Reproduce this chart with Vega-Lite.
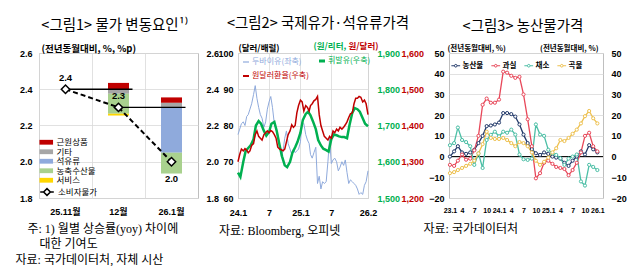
{
  "$schema": "https://vega.github.io/schema/vega-lite/v6.json",
  "padding": {"left": 14, "top": 15, "right": 5, "bottom": 2},
  "background": "white",
  "bounds": "flush",
  "spacing": 40,
  "resolve": {"scale": {"color": "independent", "opacity": "independent"}, "legend": {"color": "independent", "opacity": "independent"}},
  "config": {
    "font": "Liberation Sans, Noto Sans CJK KR",
    "view": {"stroke": "#BFBFBF", "strokeWidth": 1},
    "axis": {"labelFontSize": 9, "labelFontWeight": "bold", "labelColor": "#000000", "ticks": false, "domain": false, "grid": false, "gridColor": "#D9D9D9", "gridWidth": 0.8, "titleFontSize": 9.5, "titleFontWeight": "bold", "titleColor": "#000000", "titleFont": "Noto Sans CJK KR", "labelFlush": false, "labelOverlap": false},
    "title": {"font": "Noto Sans CJK KR", "fontSize": 14.5, "fontWeight": "normal", "color": "#000000", "anchor": "middle", "frame": "group"},
    "legend": {"padding": 0, "labelFont": "Noto Sans CJK KR", "labelFontSize": 9.5, "labelColor": "#000000"}
  },
  "datasets": {
    "p1bars": [
      {"month": "12월", "item": "근원상품", "lo": 2.40, "hi": 2.435},
      {"month": "12월", "item": "기타", "lo": 2.375, "hi": 2.40},
      {"month": "12월", "item": "농축수산물", "lo": 2.265, "hi": 2.375},
      {"month": "12월", "item": "서비스", "lo": 2.255, "hi": 2.265},
      {"month": "26.1월", "item": "근원상품", "lo": 2.325, "hi": 2.355},
      {"month": "26.1월", "item": "기타", "lo": 2.30, "hi": 2.325},
      {"month": "26.1월", "item": "석유류", "lo": 2.05, "hi": 2.30},
      {"month": "26.1월", "item": "농축수산물", "lo": 1.935, "hi": 2.05}
    ],
    "p1cpi": [
      {"month": "25.11월", "value": 2.4, "series": "소비자물가"},
      {"month": "12월", "value": 2.3, "series": "소비자물가"},
      {"month": "26.1월", "value": 2.0, "series": "소비자물가"}
    ],
    "p1steps": [
      {"from": "25.11월", "to": "12월", "value": 2.4},
      {"from": "12월", "to": "26.1월", "value": 2.3}
    ],
    "dubai": [
      {"d": "2024-01-01", "v": 77.5}, {"d": "2024-01-11", "v": 79}, {"d": "2024-01-21", "v": 80.5},
      {"d": "2024-02-01", "v": 81}, {"d": "2024-02-11", "v": 80}, {"d": "2024-02-21", "v": 82.5},
      {"d": "2024-03-01", "v": 83}, {"d": "2024-03-11", "v": 84.5}, {"d": "2024-03-21", "v": 86},
      {"d": "2024-04-01", "v": 88.5}, {"d": "2024-04-11", "v": 91}, {"d": "2024-04-21", "v": 87.5},
      {"d": "2024-05-01", "v": 85}, {"d": "2024-05-11", "v": 83}, {"d": "2024-05-21", "v": 82},
      {"d": "2024-06-01", "v": 79.5}, {"d": "2024-06-11", "v": 81}, {"d": "2024-06-21", "v": 84.5},
      {"d": "2024-07-01", "v": 86.5}, {"d": "2024-07-11", "v": 88}, {"d": "2024-07-21", "v": 85},
      {"d": "2024-08-01", "v": 80.5}, {"d": "2024-08-11", "v": 79}, {"d": "2024-08-21", "v": 77.5},
      {"d": "2024-09-01", "v": 74.5}, {"d": "2024-09-11", "v": 71.5}, {"d": "2024-09-21", "v": 73},
      {"d": "2024-10-01", "v": 76.5}, {"d": "2024-10-11", "v": 78.5}, {"d": "2024-10-21", "v": 75},
      {"d": "2024-11-01", "v": 73.5}, {"d": "2024-11-11", "v": 72}, {"d": "2024-11-21", "v": 73.5},
      {"d": "2024-12-01", "v": 72.5}, {"d": "2024-12-11", "v": 73}, {"d": "2024-12-21", "v": 73.5},
      {"d": "2025-01-01", "v": 75.5}, {"d": "2025-01-11", "v": 81}, {"d": "2025-01-21", "v": 80.5},
      {"d": "2025-02-01", "v": 77.5}, {"d": "2025-02-11", "v": 76}, {"d": "2025-02-21", "v": 75},
      {"d": "2025-03-01", "v": 72}, {"d": "2025-03-11", "v": 71}, {"d": "2025-03-21", "v": 72.5},
      {"d": "2025-04-01", "v": 74}, {"d": "2025-04-11", "v": 64}, {"d": "2025-04-21", "v": 66},
      {"d": "2025-05-01", "v": 62.5}, {"d": "2025-05-11", "v": 64.5}, {"d": "2025-05-21", "v": 64},
      {"d": "2025-06-01", "v": 64.5}, {"d": "2025-06-11", "v": 70}, {"d": "2025-06-21", "v": 76.5},
      {"d": "2025-07-01", "v": 69.5}, {"d": "2025-07-11", "v": 70.5}, {"d": "2025-07-21", "v": 71},
      {"d": "2025-08-01", "v": 70}, {"d": "2025-08-11", "v": 67.5}, {"d": "2025-08-21", "v": 68.5},
      {"d": "2025-09-01", "v": 70}, {"d": "2025-09-11", "v": 69}, {"d": "2025-09-21", "v": 70.5},
      {"d": "2025-10-01", "v": 67}, {"d": "2025-10-11", "v": 64}, {"d": "2025-10-21", "v": 65},
      {"d": "2025-11-01", "v": 64.5}, {"d": "2025-11-11", "v": 64}, {"d": "2025-11-21", "v": 63.5},
      {"d": "2025-12-01", "v": 62.5}, {"d": "2025-12-11", "v": 61}, {"d": "2025-12-21", "v": 61.5},
      {"d": "2026-01-01", "v": 61}, {"d": "2026-01-11", "v": 63.5}, {"d": "2026-01-21", "v": 64.5},
      {"d": "2026-02-01", "v": 67.5}
    ],
    "gas": [
      {"d": "2024-01-01", "v": 1570}, {"d": "2024-01-15", "v": 1558}, {"d": "2024-02-01", "v": 1600}, {"d": "2024-02-15", "v": 1630},
      {"d": "2024-03-01", "v": 1638}, {"d": "2024-03-15", "v": 1645}, {"d": "2024-04-01", "v": 1662}, {"d": "2024-04-15", "v": 1700},
      {"d": "2024-05-01", "v": 1712}, {"d": "2024-05-15", "v": 1705}, {"d": "2024-06-01", "v": 1685}, {"d": "2024-06-15", "v": 1672},
      {"d": "2024-07-01", "v": 1682}, {"d": "2024-07-15", "v": 1705}, {"d": "2024-08-01", "v": 1710}, {"d": "2024-08-15", "v": 1685},
      {"d": "2024-09-01", "v": 1645}, {"d": "2024-09-15", "v": 1615}, {"d": "2024-10-01", "v": 1590}, {"d": "2024-10-15", "v": 1585},
      {"d": "2024-11-01", "v": 1600}, {"d": "2024-11-15", "v": 1625}, {"d": "2024-12-01", "v": 1640}, {"d": "2024-12-15", "v": 1655},
      {"d": "2025-01-01", "v": 1680}, {"d": "2025-01-15", "v": 1715}, {"d": "2025-02-01", "v": 1732}, {"d": "2025-02-15", "v": 1738},
      {"d": "2025-03-01", "v": 1728}, {"d": "2025-03-15", "v": 1712}, {"d": "2025-04-01", "v": 1690}, {"d": "2025-04-15", "v": 1660},
      {"d": "2025-05-01", "v": 1645}, {"d": "2025-05-15", "v": 1636}, {"d": "2025-06-01", "v": 1632}, {"d": "2025-06-15", "v": 1628},
      {"d": "2025-07-01", "v": 1662}, {"d": "2025-07-15", "v": 1675}, {"d": "2025-08-01", "v": 1673}, {"d": "2025-08-15", "v": 1670},
      {"d": "2025-09-01", "v": 1668}, {"d": "2025-09-15", "v": 1668}, {"d": "2025-10-01", "v": 1665}, {"d": "2025-10-15", "v": 1700},
      {"d": "2025-11-01", "v": 1735}, {"d": "2025-11-15", "v": 1748}, {"d": "2025-12-01", "v": 1745}, {"d": "2025-12-15", "v": 1738},
      {"d": "2026-01-01", "v": 1720}, {"d": "2026-01-15", "v": 1705}, {"d": "2026-02-01", "v": 1698}
    ],
    "fx": [
      {"d": "2024-01-01", "v": 1300}, {"d": "2024-01-11", "v": 1320}, {"d": "2024-01-21", "v": 1335},
      {"d": "2024-02-01", "v": 1330}, {"d": "2024-02-11", "v": 1336}, {"d": "2024-02-21", "v": 1332},
      {"d": "2024-03-01", "v": 1325}, {"d": "2024-03-11", "v": 1330}, {"d": "2024-03-21", "v": 1345},
      {"d": "2024-04-01", "v": 1350}, {"d": "2024-04-11", "v": 1375}, {"d": "2024-04-21", "v": 1385},
      {"d": "2024-05-01", "v": 1370}, {"d": "2024-05-11", "v": 1365}, {"d": "2024-05-21", "v": 1360},
      {"d": "2024-06-01", "v": 1375}, {"d": "2024-06-11", "v": 1380}, {"d": "2024-06-21", "v": 1385},
      {"d": "2024-07-01", "v": 1380}, {"d": "2024-07-11", "v": 1386}, {"d": "2024-07-21", "v": 1383},
      {"d": "2024-08-01", "v": 1375}, {"d": "2024-08-11", "v": 1365}, {"d": "2024-08-21", "v": 1340},
      {"d": "2024-09-01", "v": 1335}, {"d": "2024-09-11", "v": 1333}, {"d": "2024-09-21", "v": 1330},
      {"d": "2024-10-01", "v": 1335}, {"d": "2024-10-11", "v": 1355}, {"d": "2024-10-21", "v": 1375},
      {"d": "2024-11-01", "v": 1385}, {"d": "2024-11-11", "v": 1402}, {"d": "2024-11-21", "v": 1395},
      {"d": "2024-12-01", "v": 1400}, {"d": "2024-12-11", "v": 1435}, {"d": "2024-12-21", "v": 1455},
      {"d": "2025-01-01", "v": 1470}, {"d": "2025-01-11", "v": 1465}, {"d": "2025-01-21", "v": 1440},
      {"d": "2025-02-01", "v": 1455}, {"d": "2025-02-11", "v": 1450}, {"d": "2025-02-21", "v": 1440},
      {"d": "2025-03-01", "v": 1455}, {"d": "2025-03-11", "v": 1460}, {"d": "2025-03-21", "v": 1468},
      {"d": "2025-04-01", "v": 1472}, {"d": "2025-04-11", "v": 1480}, {"d": "2025-04-21", "v": 1430},
      {"d": "2025-05-01", "v": 1400}, {"d": "2025-05-11", "v": 1385}, {"d": "2025-05-21", "v": 1370},
      {"d": "2025-06-01", "v": 1365}, {"d": "2025-06-11", "v": 1360}, {"d": "2025-06-21", "v": 1370},
      {"d": "2025-07-01", "v": 1365}, {"d": "2025-07-11", "v": 1385}, {"d": "2025-07-21", "v": 1380},
      {"d": "2025-08-01", "v": 1390}, {"d": "2025-08-11", "v": 1385}, {"d": "2025-08-21", "v": 1395},
      {"d": "2025-09-01", "v": 1390}, {"d": "2025-09-11", "v": 1395}, {"d": "2025-09-21", "v": 1402},
      {"d": "2025-10-01", "v": 1410}, {"d": "2025-10-11", "v": 1422}, {"d": "2025-10-21", "v": 1432},
      {"d": "2025-11-01", "v": 1435}, {"d": "2025-11-11", "v": 1460}, {"d": "2025-11-21", "v": 1475},
      {"d": "2025-12-01", "v": 1475}, {"d": "2025-12-11", "v": 1480}, {"d": "2025-12-21", "v": 1478},
      {"d": "2026-01-01", "v": 1465}, {"d": "2026-01-11", "v": 1470}, {"d": "2026-01-21", "v": 1460},
      {"d": "2026-02-01", "v": 1430}
    ],
    "agri": [
      {"d": "2023-01-01", "농산물": 0, "과실": -4, "채소": 5.5, "곡물": -8},
      {"d": "2023-02-01", "농산물": 2.5, "과실": -4.5, "채소": 6.5, "곡물": -7.5},
      {"d": "2023-03-01", "농산물": 5, "과실": -2, "채소": 14, "곡물": -6.5},
      {"d": "2023-04-01", "농산물": 2, "과실": 1, "채소": 8, "곡물": -5.5},
      {"d": "2023-05-01", "농산물": 1.3, "과실": -1.5, "채소": 7, "곡물": -4.5},
      {"d": "2023-06-01", "농산물": 2, "과실": -1, "채소": 5, "곡물": -3.5},
      {"d": "2023-07-01", "농산물": 3.3, "과실": 3, "채소": -4, "곡물": -2},
      {"d": "2023-08-01", "농산물": 6.5, "과실": 10, "채소": 1.5, "곡물": 1.5},
      {"d": "2023-09-01", "농산물": 10, "과실": 25, "채소": -5.5, "곡물": 6},
      {"d": "2023-10-01", "농산물": 14.7, "과실": 28, "채소": 8, "곡물": 12},
      {"d": "2023-11-01", "농산물": 15, "과실": 26, "채소": 10.5, "곡물": 9},
      {"d": "2023-12-01", "농산물": 15.5, "과실": 26, "채소": 12, "곡물": 8.5},
      {"d": "2024-01-01", "농산물": 16.4, "과실": 27.5, "채소": 9.8, "곡물": 8.5},
      {"d": "2024-02-01", "농산물": 21, "과실": 41, "채소": 12, "곡물": 9},
      {"d": "2024-03-01", "농산물": 21, "과실": 40.5, "채소": 11.5, "곡물": 8},
      {"d": "2024-04-01", "농산물": 20.5, "과실": 39, "채소": 13, "곡물": 6.5},
      {"d": "2024-05-01", "농산물": 19.3, "과실": 38, "채소": 10.6, "곡물": 5},
      {"d": "2024-06-01", "농산물": 15.5, "과실": 38.5, "채소": 1, "곡물": 7},
      {"d": "2024-07-01", "농산물": 10.6, "과실": 30, "채소": -1.3, "곡물": 6.5},
      {"d": "2024-08-01", "농산물": 6.5, "과실": 18, "채소": -1.6, "곡물": 5},
      {"d": "2024-09-01", "농산물": 3.6, "과실": 5, "채소": -1, "곡물": 2},
      {"d": "2024-10-01", "농산물": 1.6, "과실": -10.5, "채소": 15.5, "곡물": -2},
      {"d": "2024-11-01", "농산물": 0.8, "과실": -8, "채소": 10.6, "곡물": -4},
      {"d": "2024-12-01", "농산물": 2, "과실": -3, "채소": 10, "곡물": -2.5},
      {"d": "2025-01-01", "농산물": 1.3, "과실": -2, "채소": 3.3, "곡물": -0.5},
      {"d": "2025-02-01", "농산물": 0, "과실": -3.5, "채소": 1.6, "곡물": 2},
      {"d": "2025-03-01", "농산물": -0.5, "과실": -5, "채소": 0.8, "곡물": 4},
      {"d": "2025-04-01", "농산물": -1, "과실": -5.5, "채소": -0.8, "곡물": 8},
      {"d": "2025-05-01", "농산물": -3, "과실": -6, "채소": -4, "곡물": 7.5},
      {"d": "2025-06-01", "농산물": -4.5, "과실": -9, "채소": -1, "곡물": 9},
      {"d": "2025-07-01", "농산물": -2, "과실": -6.5, "채소": 0, "곡물": 11},
      {"d": "2025-08-01", "농산물": 0, "과실": -3, "채소": 1, "곡물": 13},
      {"d": "2025-09-01", "농산물": 2.5, "과실": 2, "채소": -12, "곡물": 16},
      {"d": "2025-10-01", "농산물": 1, "과실": 10, "채소": -14, "곡물": 19.5},
      {"d": "2025-11-01", "농산물": 5.5, "과실": 11.5, "채소": -4, "곡물": 22},
      {"d": "2025-12-01", "농산물": 3.5, "과실": 5, "채소": -5, "곡물": 18.5},
      {"d": "2026-01-01", "농산물": 2, "과실": 2.5, "채소": -6.5, "곡물": 16}
    ]
  },
  "hconcat": [
    {
      "width": 159,
      "height": 145,
      "title": {"text": "<그림1> 물가 변동요인¹⁾", "offset": 10, "dx": -4},
      "resolve": {"axis": {"x": "independent", "y": "independent"}},
      "layer": [
        {
          "data": {"name": "p1bars"},
          "mark": {"type": "bar", "width": 21},
          "encoding": {
            "x": {"field": "month", "type": "nominal", "scale": {"domain": ["25.11월", "12월", "26.1월"], "paddingInner": 0, "paddingOuter": 0},
              "axis": {"labelAngle": 0, "labelPadding": 9, "title": ["\u200b\u00a0\u00a0\u00a0\u00a0주: 1) 월별 상승률(yoy) 차이에", "\u200b\u00a0\u00a0\u00a0\u00a0\u00a0\u00a0\u00a0\u00a0대한 기여도", "자료: 국가데이터처, 자체 시산"], "titleFont": "Liberation Serif, Noto Sans CJK KR", "titleFontSize": 12, "titleFontWeight": "normal", "titleAnchor": "start", "titleAlign": "left", "titleX": -24, "titleY": 25, "titleBaseline": "top", "titleLineHeight": 15.5}},
            "y": {"field": "lo", "type": "quantitative", "scale": {"domain": [1.8, 2.6], "nice": false, "zero": false},
              "axis": {"values": [1.8, 2.0, 2.2, 2.4, 2.6], "format": ".1f", "grid": true, "labelPadding": 7, "title": "(전년동월대비, %, %p)", "titleAngle": 0, "titleAlign": "left", "titleBaseline": "alphabetic", "titleX": 2, "titleY": -2}},
            "y2": {"field": "hi"},
            "color": {"field": "item", "type": "nominal", "scale": {"domain": ["근원상품", "기타", "석유류", "농축수산물", "서비스"], "range": ["#C00000", "#A6A6A6", "#8FAADC", "#A9D18E", "#FFD700"]},
              "legend": {"title": null, "orient": "none", "legendX": 3, "legendY": 85, "symbolType": "M-1.7,-0.6H1.7V0.6H-1.7Z", "symbolSize": 64, "symbolStrokeWidth": 0, "labelOffset": 6, "rowPadding": 0.5, "labelFontSize": 8.5}}
          }
        },
        {
          "data": {"name": "p1steps"},
          "mark": {"type": "rule", "color": "#000000", "strokeWidth": 1.3, "x2Offset": 14},
          "encoding": {
            "x": {"field": "from", "type": "nominal", "bandPosition": 0.5, "axis": {"grid": true, "bandPosition": 0, "labels": false, "title": null}},
            "x2": {"field": "to", "bandPosition": 0.5},
            "y": {"field": "value", "type": "quantitative", "axis": {"orient": "right", "values": [1.8, 2.0, 2.2, 2.4, 2.6], "format": ".1f", "labelPadding": 8, "title": null}}
          }
        },
        {
          "data": {"name": "p1cpi"},
          "mark": {"type": "line", "color": "#000000", "strokeWidth": 2, "strokeDash": [5, 3]},
          "encoding": {
            "x": {"field": "month", "type": "nominal", "axis": null},
            "y": {"field": "value", "type": "quantitative", "axis": null},
            "opacity": {"field": "series", "type": "nominal", "scale": {"range": [1]},
              "legend": {"title": null, "orient": "none", "legendX": 3, "legendY": 134, "symbolType": "M-1.7,0H-0.85M0.85,0H1.7M-0.85,0L0,-0.85L0.85,0L0,0.85Z", "symbolSize": 64, "symbolStrokeColor": "#000000", "symbolFillColor": "#FFFFFF", "symbolStrokeWidth": 1.5, "labelOffset": 6, "labelFontSize": 8.5}}
          }
        },
        {
          "data": {"name": "p1cpi"},
          "mark": {"type": "point", "shape": "diamond", "filled": true, "fill": "#FFFFFF", "stroke": "#000000", "strokeWidth": 1.5, "size": 70, "opacity": 1},
          "encoding": {
            "x": {"field": "month", "type": "nominal", "axis": null},
            "y": {"field": "value", "type": "quantitative", "axis": null}
          }
        },
        {
          "data": {"name": "p1cpi"},
          "transform": [{"filter": "datum.month != '26.1월'"}],
          "mark": {"type": "text", "dy": -11, "fontSize": 9.5, "fontWeight": "bold"},
          "encoding": {
            "x": {"field": "month", "type": "nominal", "axis": null},
            "y": {"field": "value", "type": "quantitative", "axis": null},
            "text": {"field": "value", "type": "quantitative", "format": ".1f"}
          }
        },
        {
          "data": {"name": "p1cpi"},
          "transform": [{"filter": "datum.month == '26.1월'"}],
          "mark": {"type": "text", "dy": 17, "fontSize": 9.5, "fontWeight": "bold"},
          "encoding": {
            "x": {"field": "month", "type": "nominal", "axis": null},
            "y": {"field": "value", "type": "quantitative", "axis": null},
            "text": {"field": "value", "type": "quantitative", "format": ".1f"}
          }
        }
      ]
    },
    {
      "width": 130,
      "height": 145,
      "title": {"text": "<그림2> 국제유가·석유류가격", "offset": 10, "dx": 15},
      "resolve": {"scale": {"y": "independent"}},
      "encoding": {
        "x": {"field": "d", "type": "temporal",
          "scale": {"type": "utc", "domain": [{"year": 2024, "month": 1, "date": 1, "utc": true}, {"year": 2026, "month": 2, "date": 1, "utc": true}]},
          "axis": {"values": [{"year": 2024, "month": 1, "date": 1, "utc": true}, {"year": 2024, "month": 7, "date": 1, "utc": true}, {"year": 2025, "month": 1, "date": 1, "utc": true}, {"year": 2025, "month": 7, "date": 1, "utc": true}, {"year": 2026, "month": 2, "date": 1, "utc": true}],
            "labelExpr": "utcmonth(datum.value) == 0 ? utcFormat(datum.value, '%y') + '.1' : utcmonth(datum.value) == 1 ? utcFormat(datum.value, '%y') + '.2' : '' + (utcmonth(datum.value) + 1)",
            "labelOverlap": false, "grid": true, "labelPadding": 10, "title": "자료: Bloomberg, 오피넷", "titleFont": "Liberation Serif, Noto Sans CJK KR", "titleFontSize": 12, "titleFontWeight": "normal", "titleAnchor": "start", "titleAlign": "left", "titleX": -19.5, "titleY": 27, "titleBaseline": "top"}}
      },
      "layer": [
        {
          "data": {"name": "dubai"},
          "mark": {"type": "line", "strokeWidth": 1},
          "encoding": {
            "y": {"field": "v", "type": "quantitative", "scale": {"domain": [60, 100], "nice": false, "zero": false},
              "axis": {"orient": "left", "values": [60, 70, 80, 90, 100], "grid": true, "labelPadding": 5, "title": "(달러/배럴)", "titleFontSize": 8.5, "titleAngle": 0, "titleAlign": "left", "titleBaseline": "alphabetic", "titleX": 0, "titleY": -3}},
            "color": {"datum": "두바이유(좌축)", "type": "nominal",
              "scale": {"domain": ["두바이유(좌축)", "휘발유(우축)", "원달러환율(우축)"], "range": ["#8FAADC", "#00B050", "#C00000"]},
              "legend": {"title": null, "values": ["두바이유(좌축)", "원달러환율(우축)", "휘발유(우축)"], "orient": "none", "legendX": 4, "legendY": 4, "columns": 2, "symbolType": "stroke", "symbolSize": 36, "symbolStrokeWidth": 2, "labelFontSize": 8, "labelOffset": 2, "columnPadding": 4, "rowPadding": 5,
                "encode": {
                  "labels": {"update": {"fill": {"signal": "datum.value == '두바이유(좌축)' ? '#8FAADC' : datum.value == '휘발유(우축)' ? '#00B050' : '#C00000'"}}},
                  "symbols": {"update": {"strokeWidth": {"signal": "datum.value == '두바이유(좌축)' ? 1.2 : datum.value == '휘발유(우축)' ? 3 : 2"}}}
                }}}
          }
        },
        {
          "data": {"name": "gas"},
          "mark": {"type": "line", "strokeWidth": 2.5},
          "encoding": {
            "y": {"field": "v", "type": "quantitative", "scale": {"domain": [1500, 1900], "nice": false, "zero": false},
              "axis": {"orient": "right", "values": [1500, 1600, 1700, 1800, 1900], "format": ",.0f", "labelColor": "#00B050", "labelPadding": 9, "title": "(원/리터,", "titleFontSize": 8.5, "titleColor": "#00B050", "titleAngle": 0, "titleAlign": "left", "titleBaseline": "alphabetic", "titleX": -55, "titleY": -5}},
            "color": {"datum": "휘발유(우축)", "type": "nominal"}
          }
        },
        {
          "data": {"name": "fx"},
          "mark": {"type": "line", "strokeWidth": 1.5},
          "encoding": {
            "y": {"field": "v", "type": "quantitative", "scale": {"domain": [1200, 1600], "nice": false, "zero": false},
              "axis": {"orient": "right", "offset": 24, "values": [1200, 1300, 1400, 1500, 1600], "format": ",.0f", "labelColor": "#C00000", "labelPadding": 9, "title": "원/달러)", "titleFontSize": 8.5, "titleColor": "#C00000", "titleAngle": 0, "titleAlign": "left", "titleBaseline": "alphabetic", "titleX": -44, "titleY": -5}},
            "color": {"datum": "원달러환율(우축)", "type": "nominal"}
          }
        }
      ]
    },
    {
      "width": 1,
      "height": 145,
      "view": {"stroke": null},
      "data": {"values": [{}]},
      "mark": {"type": "text"},
      "encoding": {"text": {"value": ""}}
    },
    {
      "width": 154,
      "height": 145,
      "title": {"text": "<그림3> 농산물가격", "offset": 10, "dx": -3},
      "resolve": {"axis": {"y": "independent"}},
      "layer": [
        {
          "data": {"values": [{}]},
          "mark": {"type": "rule", "color": "#000000", "strokeWidth": 1},
          "encoding": {
            "y": {"datum": 0, "type": "quantitative", "scale": {"domain": [-20, 50], "nice": false, "zero": false},
              "axis": {"orient": "right", "values": [-20, -10, 0, 10, 20, 30, 40, 50], "labelPadding": 8, "title": "(전년동월대비, %)", "titleFontSize": 7.5, "titleAngle": 0, "titleAlign": "right", "titleBaseline": "alphabetic", "titleX": -5, "titleY": -3}}
          }
        },
        {
          "data": {"name": "agri"},
          "transform": [{"fold": ["농산물", "과실", "채소", "곡물"], "as": ["series", "value"]}],
          "mark": {"type": "line", "strokeWidth": 1.3, "point": {"filled": false, "fill": "#FFFFFF", "size": 10, "strokeWidth": 1}},
          "encoding": {
            "x": {"field": "d", "type": "temporal",
              "scale": {"type": "utc", "domain": [{"year": 2022, "month": 12, "date": 25, "utc": true}, {"year": 2026, "month": 2, "date": 12, "utc": true}]},
              "axis": {"values": [{"year": 2023, "month": 1, "date": 1, "utc": true}, {"year": 2023, "month": 4, "date": 1, "utc": true}, {"year": 2023, "month": 7, "date": 1, "utc": true}, {"year": 2023, "month": 10, "date": 1, "utc": true}, {"year": 2024, "month": 1, "date": 1, "utc": true}, {"year": 2024, "month": 4, "date": 1, "utc": true}, {"year": 2024, "month": 7, "date": 1, "utc": true}, {"year": 2024, "month": 10, "date": 1, "utc": true}, {"year": 2025, "month": 1, "date": 1, "utc": true}, {"year": 2025, "month": 4, "date": 1, "utc": true}, {"year": 2025, "month": 7, "date": 1, "utc": true}, {"year": 2025, "month": 10, "date": 1, "utc": true}, {"year": 2026, "month": 1, "date": 1, "utc": true}],
                "labelExpr": "utcmonth(datum.value) == 0 ? utcFormat(datum.value, '%y') + '.1' : '' + (utcmonth(datum.value) + 1)",
                "labelOverlap": false, "labelFont": "Liberation Sans Narrow, Liberation Sans", "labelFontSize": 7, "labelPadding": 8, "title": "자료: 국가데이터처", "titleFont": "Liberation Serif, Noto Sans CJK KR", "titleFontSize": 12, "titleFontWeight": "normal", "titleAnchor": "start", "titleAlign": "left", "titleX": -26, "titleY": 25, "titleBaseline": "top"}},
            "y": {"field": "value", "type": "quantitative", "scale": {"domain": [-20, 50], "nice": false, "zero": false},
              "axis": {"orient": "left", "values": [-20, -10, 0, 10, 20, 30, 40, 50], "grid": true, "labelPadding": 5, "title": "(전년동월대비, %)", "titleFontSize": 7.5, "titleAngle": 0, "titleAlign": "left", "titleBaseline": "alphabetic", "titleX": -2, "titleY": -3}},
            "color": {"field": "series", "type": "nominal", "sort": ["농산물", "과실", "채소", "곡물"],
              "scale": {"domain": ["농산물", "과실", "채소", "곡물"], "range": ["#243B6B", "#E8485A", "#4CBFA6", "#EEC14F"]},
              "legend": {"title": null, "orient": "none", "direction": "horizontal", "gridAlign": "none", "legendX": 3, "legendY": 9, "symbolType": "M-1.6,0H-0.5M0.5,0H1.6M-0.5,0A0.5,0.5,0,1,1,0.5,0A0.5,0.5,0,1,1,-0.5,0", "symbolSize": 30, "symbolFillColor": "#FFFFFF", "symbolStrokeWidth": 1, "labelFontSize": 7.5, "labelFontWeight": "bold", "labelOffset": 3, "columnPadding": 5}}
          }
        }
      ]
    }
  ]
}
